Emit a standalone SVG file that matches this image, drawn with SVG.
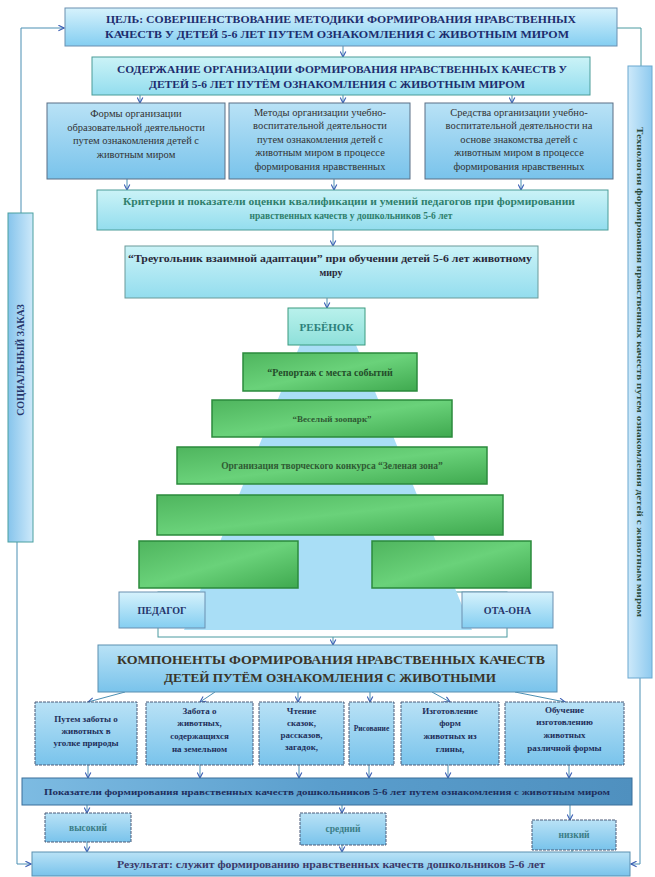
<svg xmlns="http://www.w3.org/2000/svg" width="655" height="877" viewBox="0 0 655 877">
<defs>
<linearGradient id="gTop" x1="0" y1="0" x2="0" y2="1"><stop offset="0" stop-color="#d6f2fc"/><stop offset="1" stop-color="#84cef1"/></linearGradient>
<linearGradient id="gBox" x1="0" y1="0" x2="0" y2="1"><stop offset="0" stop-color="#b9e2f6"/><stop offset="1" stop-color="#79c3eb"/></linearGradient>
<linearGradient id="gCyan" x1="0" y1="0" x2="0" y2="1"><stop offset="0" stop-color="#cbf3f7"/><stop offset="1" stop-color="#93ddee"/></linearGradient>
<linearGradient id="gGreen" x1="0" y1="0" x2="1" y2="1"><stop offset="0" stop-color="#4fb55e"/><stop offset="0.5" stop-color="#6ad27a"/><stop offset="1" stop-color="#3fa94f"/></linearGradient>
<linearGradient id="gPok" x1="0" y1="0" x2="1" y2="0"><stop offset="0" stop-color="#7dbbe2"/><stop offset="0.5" stop-color="#5a9ecd"/><stop offset="1" stop-color="#4f90bf"/></linearGradient>
<linearGradient id="gBarL" x1="0" y1="0" x2="1" y2="0"><stop offset="0" stop-color="#86c4ec"/><stop offset="1" stop-color="#cde9fa"/></linearGradient>
<linearGradient id="gBarR" x1="0" y1="0" x2="1" y2="0"><stop offset="0" stop-color="#cde9fa"/><stop offset="1" stop-color="#8ecaef"/></linearGradient>
<linearGradient id="gKid" x1="0" y1="0" x2="0" y2="1"><stop offset="0" stop-color="#b9f1ec"/><stop offset="1" stop-color="#8ee0da"/></linearGradient>
<marker id="arr" viewBox="0 0 10 10" refX="9" refY="5" markerWidth="7" markerHeight="7" orient="auto" markerUnits="userSpaceOnUse"><path d="M1,1 L9,5 L1,9" fill="none" stroke="#3c5fb4" stroke-width="1.6"/></marker>
</defs>
<style>
.t{font-family:"Liberation Serif","DejaVu Serif",serif;font-weight:bold;text-anchor:middle}
.n{font-family:"Liberation Serif","DejaVu Serif",serif;font-weight:normal;text-anchor:middle;font-size:10.5px;fill:#333333}
.box{fill:url(#gBox);stroke:#5a6f85;stroke-width:1}
.cyan{fill:url(#gCyan);stroke:#4a9c98;stroke-width:1}
.grn{fill:url(#gGreen);stroke:#2b8a3c;stroke-width:1.5}
.comp{fill:url(#gBox);stroke:#4a5a78;stroke-width:1;stroke-dasharray:3 1}
.c{fill:none;stroke:#4b8fb3;stroke-width:1;marker-end:url(#arr)}
.cl{fill:none;stroke:#4b9aa0;stroke-width:1}
.h{font-size:10.5px;fill:#1d2d6e}
.cm{font-size:9px;fill:#1f2f5a}
.lv{font-size:9.5px;fill:#3a7d86}
</style>

<g id="connectors">
<path class="c" d="M21,213 V28 H64"/>
<path class="c" d="M17,542 V864 H31"/>
<path class="cl" d="M617,28 H641 V66"/>
<path class="c" d="M640,678 V864 H631"/>
<path class="c" d="M343,46 V57"/>
<path class="c" d="M140,95 V103"/>
<path class="c" d="M343,95 V103"/>
<path class="c" d="M512,95 V103"/>
<path class="c" d="M127,179 V190"/>
<path class="c" d="M334,179 V190"/>
<path class="c" d="M521,179 V190"/>
<path class="c" d="M333,230 V246"/>
<path class="c" d="M327,298 V308"/>
<path class="c" d="M333,637 V645"/>
<path class="c" d="M125,692 L88,702"/>
<path class="c" d="M215,692 L200,702"/>
<path class="c" d="M298,692 V702"/>
<path class="c" d="M370,692 V702"/>
<path class="c" d="M432,692 L450,702"/>
<path class="c" d="M515,692 L565,702"/>
<path class="c" d="M88,765 V778"/>
<path class="c" d="M200,765 V778"/>
<path class="c" d="M299,765 V778"/>
<path class="c" d="M369,765 V778"/>
<path class="c" d="M448,765 V778"/>
<path class="c" d="M569,765 V778"/>
<path class="c" d="M87,805 V813"/>
<path class="c" d="M342,805 V813"/>
<path class="c" d="M570,805 V820"/>
<path class="c" d="M87,842 V852"/>
<path class="c" d="M342,845 V852"/>
<path class="cl" d="M572,850 V852"/>
</g>

<g id="goal">
<rect x="65" y="8" width="552" height="38" fill="url(#gTop)" stroke="#6a8fb0"/>
<text class="t h" x="341" y="23" textLength="470" lengthAdjust="spacingAndGlyphs">ЦЕЛЬ: СОВЕРШЕНСТВОВАНИЕ МЕТОДИКИ ФОРМИРОВАНИЯ НРАВСТВЕННЫХ</text>
<text class="t h" x="337" y="38" textLength="464" lengthAdjust="spacingAndGlyphs" fill="#2b3fa6">КАЧЕСТВ У ДЕТЕЙ 5-6 ЛЕТ ПУТЕМ ОЗНАКОМЛЕНИЯ С ЖИВОТНЫМ МИРОМ</text>
</g>

<g id="content">
<rect x="92" y="57" width="498" height="38" class="cyan"/>
<text class="t h" x="342" y="73" textLength="450" lengthAdjust="spacingAndGlyphs">СОДЕРЖАНИЕ ОРГАНИЗАЦИИ ФОРМИРОВАНИЯ НРАВСТВЕННЫХ КАЧЕСТВ У</text>
<text class="t h" x="337" y="88" textLength="376" lengthAdjust="spacingAndGlyphs">ДЕТЕЙ 5-6 ЛЕТ ПУТЁМ ОЗНАКОМЛЕНИЯ С ЖИВОТНЫМ МИРОМ</text>
</g>

<g id="forms">
<rect x="47" y="103" width="178" height="76" class="box"/>
<text class="n" x="136" y="117">Формы организации</text>
<text class="n" x="136" y="130.5">образовательной деятельности</text>
<text class="n" x="136" y="144">путем ознакомления детей с</text>
<text class="n" x="136" y="157.5">животным миром</text>
</g>
<g id="methods">
<rect x="229" y="103" width="181" height="76" class="box"/>
<text class="n" x="320" y="115.5">Методы организации учебно-</text>
<text class="n" x="320" y="129">воспитательной деятельности</text>
<text class="n" x="320" y="142.5">путем ознакомления детей с</text>
<text class="n" x="320" y="156">животным миром в процессе</text>
<text class="n" x="320" y="169.5">формирования нравственных</text>
</g>
<g id="means">
<rect x="425" y="103" width="188" height="76" class="box"/>
<text class="n" x="519" y="115.5">Средства организации учебно-</text>
<text class="n" x="519" y="129">воспитательной деятельности на</text>
<text class="n" x="519" y="142.5">основе знакомства детей с</text>
<text class="n" x="519" y="156">животным миром в процессе</text>
<text class="n" x="519" y="169.5">формирования нравственных</text>
</g>

<g id="criteria">
<rect x="97" y="190" width="511" height="40" class="cyan"/>
<text class="t" x="349" y="205" font-size="9.5" fill="#2f7f6c" textLength="452" lengthAdjust="spacingAndGlyphs">Критерии и показатели оценки квалификации и умений педагогов при формировании</text>
<text class="t" x="351" y="219" font-size="9.5" fill="#2f7f6c">нравственных качеств у дошкольников 5-6 лет</text>
</g>

<g id="triangle">
<rect x="125" y="246" width="413" height="52" fill="url(#gCyan)" stroke="#6a9a9a"/>
<text class="t" x="330" y="262" font-size="10" fill="#2a2a3a" textLength="404" lengthAdjust="spacingAndGlyphs">“Треугольник взаимной адаптации” при обучении детей 5-6 лет животному</text>
<text class="t" x="331" y="276" font-size="10" fill="#2a2a3a">миру</text>
</g>

<g id="pyramid">
<rect x="158" y="592" width="349" height="45" fill="#ffffff" stroke="#4a9aa0"/>
<polygon points="300,345 356,345 472,630 184,630" fill="#a9def6"/>
</g>

<g id="child">
<rect x="288" y="308" width="77" height="37" fill="url(#gKid)" stroke="#3a9a7e"/>
<text class="t" x="326.5" y="331" font-size="11" fill="#2c7f7a">РЕБЁНОК</text>
</g>
<g id="reportage">
<rect x="243" y="353" width="174" height="38" class="grn" stroke-width="2.5"/>
<text class="t" x="330" y="376" font-size="10" fill="#244d2a">“Репортаж с места событий</text>
</g>
<g id="zoo">
<rect x="212" y="400" width="240" height="37" class="grn"/>
<text class="t" x="332" y="422" font-size="9" fill="#2f5a33">“Веселый зоопарк”</text>
</g>
<g id="contest">
<rect x="177" y="447" width="310" height="37" class="grn"/>
<text class="t" x="332" y="469" font-size="9.5" fill="#2f5a33">Организация творческого конкурса “Зеленая зона”</text>
</g>
<g id="level4">
<rect x="157" y="495" width="346" height="40" class="grn" stroke-width="1"/>
</g>
<g id="level5-left">
<rect x="139" y="541" width="159" height="47" class="grn" stroke-width="1"/>
</g>
<g id="level5-right">
<rect x="372" y="541" width="159" height="47" class="grn" stroke-width="1"/>
</g>
<g id="teacher">
<rect x="119" y="592" width="86" height="36" fill="url(#gTop)" stroke="#6a8fb0"/>
<text class="t" x="162" y="614" font-size="10" fill="#25356b">ПЕДАГОГ</text>
</g>
<g id="parents">
<rect x="462" y="592" width="91" height="36" fill="url(#gTop)" stroke="#6a8fb0"/>
<text class="t" x="507.5" y="614" font-size="10" fill="#25356b">ОТА-ОНА</text>
</g>

<g id="components">
<rect x="98" y="645" width="459" height="47" fill="url(#gBox)" stroke="#5a8fb0"/>
<text class="t" x="331" y="664" font-size="13" fill="#3a3428" textLength="428" lengthAdjust="spacingAndGlyphs">КОМПОНЕНТЫ ФОРМИРОВАНИЯ НРАВСТВЕННЫХ КАЧЕСТВ</text>
<text class="t" x="330" y="682" font-size="13" fill="#3a3428" textLength="332" lengthAdjust="spacingAndGlyphs">ДЕТЕЙ ПУТЁМ ОЗНАКОМЛЕНИЯ С ЖИВОТНЫМИ</text>
</g>

<g id="comp1">
<rect x="35" y="702" width="102" height="63" class="comp"/>
<text class="t cm" x="86" y="722">Путем заботы о</text>
<text class="t cm" x="86" y="734">животных в</text>
<text class="t cm" x="86" y="746">уголке природы</text>
</g>
<g id="comp2">
<rect x="146" y="702" width="107" height="63" class="comp"/>
<text class="t cm" x="199.5" y="714">Забота о</text>
<text class="t cm" x="199.5" y="726">животных,</text>
<text class="t cm" x="199.5" y="739">содержащихся</text>
<text class="t cm" x="199.5" y="752">на земельном</text>
</g>
<g id="comp3">
<rect x="259" y="702" width="85" height="63" class="comp"/>
<text class="t cm" x="301.5" y="714">Чтение</text>
<text class="t cm" x="301.5" y="726">сказок,</text>
<text class="t cm" x="301.5" y="738">рассказов,</text>
<text class="t cm" x="301.5" y="750">загадок,</text>
</g>
<g id="comp4">
<rect x="349" y="702" width="45" height="63" class="comp"/>
<text class="t" x="371.5" y="731" font-size="7.5" fill="#1f2f5a">Рисование</text>
</g>
<g id="comp5">
<rect x="401" y="702" width="98" height="63" class="comp"/>
<text class="t cm" x="450" y="714">Изготовление</text>
<text class="t cm" x="450" y="726">форм</text>
<text class="t cm" x="450" y="739">животных из</text>
<text class="t cm" x="450" y="752">глины,</text>
</g>
<g id="comp6">
<rect x="505" y="702" width="119" height="63" class="comp"/>
<text class="t cm" x="564.5" y="713">Обучение</text>
<text class="t cm" x="564.5" y="725">изготовлению</text>
<text class="t cm" x="564.5" y="738">животных</text>
<text class="t cm" x="564.5" y="751">различной формы</text>
</g>

<g id="indicators">
<rect x="22" y="778" width="610" height="27" fill="url(#gPok)" stroke="#3a6f9a"/>
<text class="t" x="327" y="795" font-size="9" fill="#1e2f5e" textLength="566" lengthAdjust="spacingAndGlyphs">Показатели формирования нравственных качеств дошкольников 5-6 лет путем ознакомления с животным миром</text>
</g>
<g id="high">
<rect x="45" y="813" width="86" height="29" class="comp"/>
<text class="t lv" x="88" y="831">высокий</text>
</g>
<g id="medium">
<rect x="300" y="813" width="86" height="32" class="comp"/>
<text class="t lv" x="343" y="832">средний</text>
</g>
<g id="low">
<rect x="532" y="820" width="84" height="30" class="comp"/>
<text class="t lv" x="574" y="838">низкий</text>
</g>

<g id="result">
<rect x="32" y="852" width="598" height="24" fill="url(#gBox)" stroke="#5a8fb0"/>
<text class="t" x="331" y="868" font-size="10" fill="#3c3a6a" textLength="428" lengthAdjust="spacingAndGlyphs">Результат: служит формированию нравственных качеств дошкольников 5-6 лет</text>
</g>

<g id="social-order">
<rect x="8" y="213" width="25" height="329" fill="url(#gBarL)" stroke="#4aa0a0"/>
<text class="t" transform="translate(24,360) rotate(-90)" x="0" y="0" font-size="10" fill="#24346a">СОЦИАЛЬНЫЙ ЗАКАЗ</text>
</g>
<g id="technology">
<rect x="628" y="66" width="24" height="612" fill="url(#gBarR)" stroke="#6aa8d0"/>
<text class="t" transform="translate(637,372) rotate(90)" x="0" y="0" font-size="8.5" fill="#2b4a3c" textLength="490" lengthAdjust="spacingAndGlyphs">Технология формирования нравственных качеств путем ознакомления детей с животным миром</text>
</g>
</svg>
